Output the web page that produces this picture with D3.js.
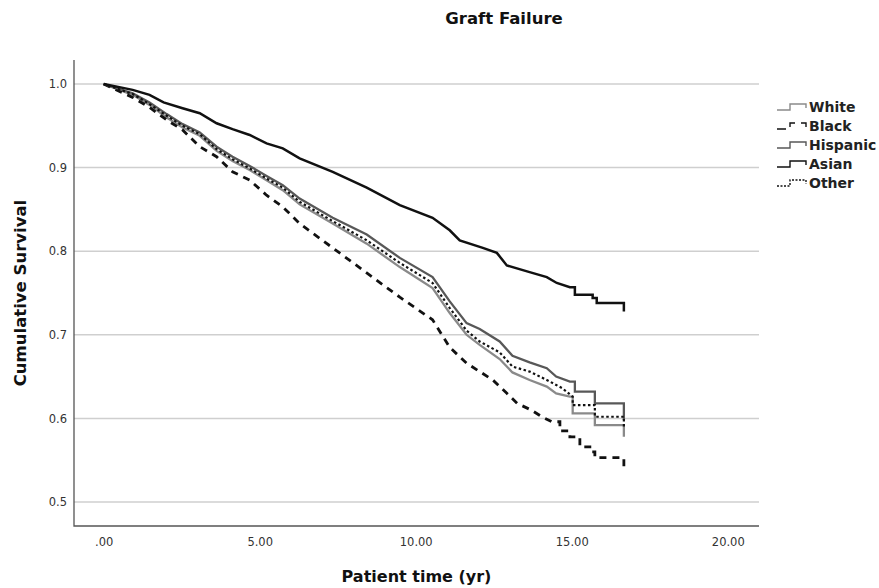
<!DOCTYPE html>
<html>
<head>
<meta charset="utf-8">
<script src="https://cdn.jsdelivr.net/npm/d3@7"></script>
<style>
  body { margin: 0; background: #fff; }
  svg { display: block; font-family: "DejaVu Sans", sans-serif; }
</style>
</head>
<body>
<svg id="chart" width="879" height="588"></svg>
<script>
// groups, in legend order
const groups = ['White', 'Black', 'Hispanic', 'Asian', 'Other'];

// Kaplan-Meier vertices: [time (yr), cumulative survival]
const white = [[0,1.0],[0.93,0.987],[1.47,0.975],[2.02,0.960],[2.53,0.948],[3.08,0.938],[3.62,0.920],[4.13,0.908],[4.68,0.897],[5.22,0.885],[5.74,0.873],[6.28,0.856],[7.34,0.833],[8.43,0.809],[9.49,0.781],[10.54,0.756],[11.09,0.726],[11.63,0.700],[12.05,0.688],[12.69,0.671],[13.1,0.655],[13.65,0.646],[14.2,0.638],[14.5,0.630],[14.94,0.626],[15.03,0.626],[15.03,0.606],[15.74,0.606],[15.74,0.592],[16.67,0.592],[16.67,0.578]];
const black = [[0,1.0],[0.93,0.984],[1.47,0.972],[2.02,0.957],[2.53,0.945],[3.08,0.925],[3.62,0.913],[4.13,0.895],[4.68,0.885],[5.22,0.867],[5.74,0.853],[6.28,0.833],[7.34,0.804],[8.43,0.774],[9.49,0.745],[10.54,0.718],[11.09,0.685],[11.63,0.666],[12.47,0.646],[12.92,0.630],[13.25,0.618],[13.7,0.610],[14.04,0.602],[14.36,0.596],[14.62,0.596],[14.62,0.585],[14.94,0.585],[14.94,0.578],[15.26,0.578],[15.26,0.566],[15.58,0.566],[15.58,0.560],[15.74,0.560],[15.74,0.553],[16.67,0.553],[16.67,0.539]];
const hispanic = [[0,1.0],[0.93,0.989],[1.47,0.978],[2.02,0.964],[2.53,0.952],[3.08,0.942],[3.62,0.925],[4.13,0.913],[4.68,0.902],[5.22,0.890],[5.74,0.879],[6.28,0.863],[7.34,0.840],[8.43,0.820],[9.49,0.792],[10.54,0.769],[11.09,0.740],[11.63,0.714],[12.05,0.707],[12.69,0.692],[13.1,0.675],[13.65,0.667],[14.2,0.660],[14.5,0.650],[14.94,0.644],[15.1,0.644],[15.1,0.632],[15.74,0.632],[15.74,0.618],[16.67,0.618],[16.67,0.598]];
const asian = [[0,1.0],[0.93,0.993],[1.47,0.987],[1.92,0.978],[2.53,0.971],[3.08,0.965],[3.62,0.953],[4.13,0.946],[4.68,0.939],[5.22,0.929],[5.74,0.923],[6.28,0.911],[7.34,0.895],[8.43,0.876],[9.49,0.855],[10.54,0.840],[11.09,0.825],[11.41,0.813],[12.15,0.804],[12.6,0.798],[12.92,0.783],[13.65,0.775],[14.2,0.769],[14.52,0.762],[14.94,0.757],[15.1,0.757],[15.1,0.748],[15.67,0.748],[15.67,0.744],[15.8,0.744],[15.8,0.738],[16.67,0.738],[16.67,0.728]];
const other = [[0,1.0],[0.93,0.988],[1.47,0.976],[2.02,0.962],[2.53,0.950],[3.08,0.940],[3.62,0.922],[4.13,0.910],[4.68,0.899],[5.22,0.887],[5.74,0.876],[6.28,0.859],[7.34,0.836],[8.43,0.813],[9.49,0.786],[10.54,0.762],[11.09,0.732],[11.63,0.705],[12.05,0.692],[12.69,0.679],[13.1,0.662],[13.65,0.656],[14.2,0.646],[14.7,0.636],[15.03,0.626],[15.03,0.616],[15.74,0.616],[15.74,0.602],[16.67,0.602],[16.67,0.590]];

// axis ticks
const xTicks = [0, 5, 10, 15, 20];
const xTickLabels = ['.00', '5.00', '10.00', '15.00', '20.00'];
const yTicks = [0.5, 0.6, 0.7, 0.8, 0.9, 1.0];
const yTickLabels = ['0.5', '0.6', '0.7', '0.8', '0.9', '1.0'];

const seriesData = { White: white, Black: black, Hispanic: hispanic, Asian: asian, Other: other };

// line styles per group
const STYLE = {
    White:    { color: '#8a8a8a', width: 2.3, dash: null },
    Black:    { color: '#111',    width: 2.8, dash: '7,6' },
    Hispanic: { color: '#585858', width: 2.3, dash: null },
    Asian:    { color: '#111',    width: 2.5, dash: null },
    Other:    { color: '#111',    width: 2.2, dash: '2.5,2.5' }
};

const plot = { left: 74, right: 759, top: 60, bottom: 526 };

const svg = d3.select('#chart');

const x = d3.scaleLinear().domain([-0.95, 21.0]).range([plot.left, plot.right]);
const y = d3.scaleLinear().domain([0.4713, 1.0287]).range([plot.bottom, plot.top]);

// gridlines
svg.append('g')
    .selectAll('line')
    .data(yTicks)
    .join('line')
    .attr('x1', plot.left).attr('x2', plot.right)
    .attr('y1', d => y(d)).attr('y2', d => y(d))
    .attr('stroke', '#cfcfcf')
    .attr('stroke-width', 1.5);

// axes
const xAxis = d3.axisBottom(x)
    .tickValues(xTicks)
    .tickSize(0)
    .tickPadding(12)
    .tickFormat((d, i) => xTickLabels[i]);

const yAxis = d3.axisLeft(y)
    .tickValues(yTicks)
    .tickSize(0)
    .tickPadding(7)
    .tickFormat((d, i) => yTickLabels[i]);

svg.append('g')
    .attr('transform', `translate(0,${plot.bottom})`)
    .call(xAxis)
    .call(g => g.select('.domain').remove())
    .selectAll('text')
    .attr('font-size', 11.5)
    .attr('font-family', '"DejaVu Sans", sans-serif')
    .attr('fill', '#333');

svg.append('g')
    .attr('transform', `translate(${plot.left},0)`)
    .call(yAxis)
    .call(g => g.select('.domain').remove())
    .selectAll('text')
    .attr('font-size', 11.5)
    .attr('font-family', '"DejaVu Sans", sans-serif')
    .attr('fill', '#333');

// axis lines
svg.append('path')
    .attr('d', `M${plot.left},${plot.top}V${plot.bottom}H${plot.right}`)
    .attr('fill', 'none')
    .attr('stroke', '#555')
    .attr('stroke-width', 1.3);

// survival curves
const line = d3.line()
    .x(d => x(d[0]))
    .y(d => y(d[1]));

svg.append('g')
    .selectAll('path')
    .data(groups)
    .join('path')
    .attr('d', g => line(seriesData[g]))
    .attr('fill', 'none')
    .attr('stroke', g => STYLE[g].color)
    .attr('stroke-width', g => STYLE[g].width)
    .attr('stroke-dasharray', g => STYLE[g].dash)
    .attr('stroke-linejoin', 'miter');

// titles
svg.append('text')
    .attr('x', 504).attr('y', 24)
    .attr('text-anchor', 'middle')
    .attr('font-size', 16.5).attr('font-weight', 'bold')
    .attr('fill', '#111')
    .text('Graft Failure');

svg.append('text')
    .attr('x', (plot.left + plot.right) / 2).attr('y', 582)
    .attr('text-anchor', 'middle')
    .attr('font-size', 16).attr('font-weight', 'bold')
    .attr('fill', '#111')
    .text('Patient time (yr)');

svg.append('text')
    .attr('transform', `translate(26,${(plot.top + plot.bottom) / 2}) rotate(-90)`)
    .attr('text-anchor', 'middle')
    .attr('font-size', 16.5).attr('font-weight', 'bold')
    .attr('fill', '#111')
    .text('Cumulative Survival');

// legend
const legend = svg.append('g')
    .selectAll('g')
    .data(groups)
    .join('g')
    .attr('transform', (d, i) => `translate(777,${107 + i * 19})`);

legend.append('path')
    .attr('d', 'M0,3H13V-3H29V1')
    .attr('fill', 'none')
    .attr('stroke', g => STYLE[g].color)
    .attr('stroke-width', 1.4)
    .attr('stroke-dasharray', g => STYLE[g].dash ? (g === 'Black' ? '9,6' : '2,1.5') : null);

legend.append('text')
    .attr('x', 32).attr('y', 5)
    .attr('font-size', 14).attr('font-weight', 'bold')
    .attr('fill', '#222')
    .text(g => g);
</script>
</body>
</html>
